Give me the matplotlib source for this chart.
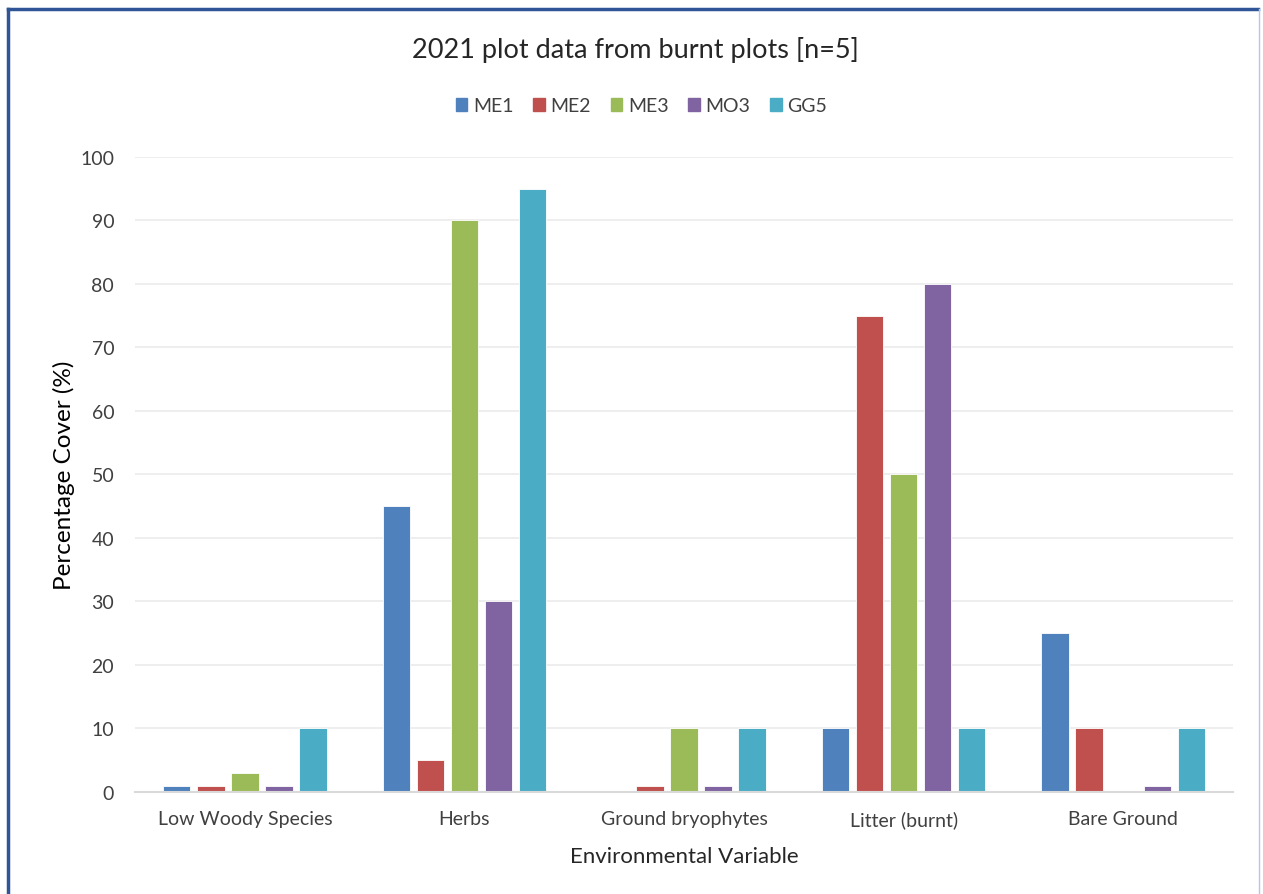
import numpy as np
import matplotlib.pyplot as plt
from matplotlib.lines import Line2D

plt.rcParams['font.family'] = ['Lato', 'DejaVu Sans']

categories = ['Low Woody Species', 'Herbs', 'Ground bryophytes', 'Litter (burnt)', 'Bare Ground']
series = ['ME1', 'ME2', 'ME3', 'MO3', 'GG5']
me1 = [1, 45, 0, 10, 25]
me2 = [1, 5, 1, 75, 10]
me3 = [3, 90, 10, 50, 0]
mo3 = [1, 30, 1, 80, 1]
gg5 = [10, 95, 10, 10, 10]
values = [me1, me2, me3, mo3, gg5]
colors = ['#4F81BD', '#C0504D', '#9BBB59', '#8064A2', '#4BACC6']

fig = plt.figure(figsize=(12.63, 8.95), dpi=100)
ax = fig.add_axes([0.1069, 0.1140, 0.8694, 0.7095])

x = np.arange(len(categories))
slot = 0.155
bw = 0.125
for i, (name, vals) in enumerate(zip(series, values)):
    off = (i - 2) * slot
    ax.bar(x + off, vals, bw, color=colors[i], label=name, zorder=3,
           edgecolor='white', linewidth=0.6)

ax.set_xlim(-0.5, len(categories) - 0.5)
ax.set_ylim(0, 100)
ax.set_yticks(range(0, 101, 10))
ax.set_xticks(x)
ax.set_xticklabels(categories)
ax.tick_params(axis='both', length=0, labelsize=14, colors='#404040')
ax.tick_params(axis='y', pad=15)
ax.tick_params(axis='x', pad=13)
ax.grid(axis='y', color='#EBEBEB', linewidth=1.2, zorder=0)
for s in ['top', 'right', 'left']:
    ax.spines[s].set_visible(False)
ax.spines['bottom'].set_color('#D9D9D9')
ax.spines['bottom'].set_linewidth(1.5)
ax.spines['bottom'].set_zorder(4)

ax.set_ylabel('Percentage Cover (%)', fontsize=17.5, color='black', labelpad=4)
ax.set_xlabel('Environmental Variable', fontsize=16, color='#262626', labelpad=13)

fig.text(0.503, 1 - 50 / 895, '2021 plot data from burnt plots [n=5]', ha='center', va='center',
         fontsize=19.5, color='#262626')
handles = [plt.Rectangle((0, 0), 1, 1, color=c) for c in colors]
fig.legend(handles, series, loc='center', bbox_to_anchor=(0.508, 1 - 107 / 895), ncol=5,
           frameon=False, fontsize=14, handlelength=0.6, handleheight=0.6,
           handletextpad=0.3, columnspacing=1.0, labelcolor='#404040')

# chart border
fig.add_artist(Line2D([8 / 1263, 1258 / 1263], [1 - 10 / 895, 1 - 10 / 895], color='#2F5597', linewidth=2.5))
fig.add_artist(Line2D([8 / 1263, 8 / 1263], [0, 1 - 10 / 895], color='#2F5597', linewidth=2.5))
fig.add_artist(Line2D([1259 / 1263, 1259 / 1263], [0, 1 - 10 / 895], color='#B4C7E7', linewidth=1))

fig.savefig('out.png', dpi=100)
